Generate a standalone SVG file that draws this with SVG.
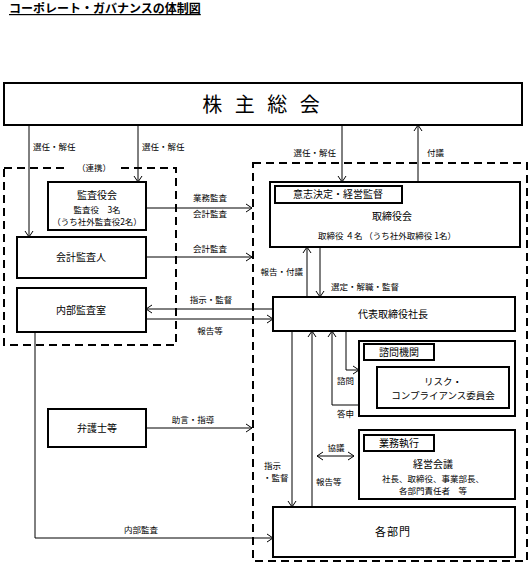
<svg xmlns="http://www.w3.org/2000/svg" width="530" height="571" viewBox="0 0 530 571">
<defs>
<marker id="ah" viewBox="-7 -5 8 10" refX="0" refY="0" markerWidth="8" markerHeight="10" markerUnits="userSpaceOnUse" orient="auto-start-reverse">
<path d="M-6,-4 L0,0 L-6,4" fill="none" stroke="#000" stroke-width="1"/>
</marker>
</defs>
<style>
text{font-family:"Noto Sans CJK JP","Noto Sans",sans-serif;fill:#000}
.box{fill:#fff;stroke:#000;stroke-width:2}
.dash{fill:none;stroke:#000;stroke-width:2;stroke-dasharray:8 5}
.c{fill:none;stroke:#000;stroke-width:1}
.a{marker-end:url(#ah)}
.lb{font-size:8.5px}
.bt{font-size:10px;text-anchor:middle}
.mid{text-anchor:middle}
.end{text-anchor:end}
</style>
<rect width="530" height="571" fill="#fff"/>
<text x="9" y="13" style="font-size:12px;font-weight:bold;text-decoration:underline">コーポレート・ガバナンスの体制図</text>

<g id="frames">
<rect class="dash" x="4" y="168" width="172" height="177"/>
<rect x="68" y="162" width="52" height="12" fill="#fff"/>
<text class="lb mid" x="94" y="171">（連携）</text>
<rect class="dash" x="253" y="163" width="274" height="398"/>
</g>

<g id="shareholders">
<rect class="box" x="4" y="83" width="518" height="42" stroke-width="2.5"/>
<text x="263" y="112" style="font-size:20px;text-anchor:middle;letter-spacing:4px">株 主 総 会</text>
</g>

<g id="kansayakukai">
<rect class="box" x="48" y="182" width="98" height="48"/>
<text class="bt" x="97" y="199">監査役会</text>
<text class="lb mid" x="97" y="213">監査役　3名</text>
<text class="lb mid" x="97" y="225">（うち社外監査役2名）</text>
</g>

<g id="kaikeikansanin">
<rect class="box" x="17" y="237" width="129" height="41"/>
<text class="bt" x="81" y="261">会計監査人</text>
</g>

<g id="naibukansashitsu">
<rect class="box" x="17" y="288" width="129" height="44"/>
<text class="bt" x="81" y="314">内部監査室</text>
</g>

<g id="bengoshi">
<rect class="box" x="48" y="409" width="98" height="38"/>
<text class="bt" x="97" y="432">弁護士等</text>
</g>

<g id="torishimariyakukai">
<rect class="box" x="270" y="182" width="250" height="65"/>
<rect class="box" x="275" y="186" width="127" height="17"/>
<text class="bt" x="338" y="198">意志決定・経営監督</text>
<text class="bt" x="392" y="220">取締役会</text>
<text class="lb mid" x="387" y="239">取締役 ４名 （うち社外取締役 1名）</text>
</g>

<g id="shacho">
<rect class="box" x="273" y="297" width="242" height="34"/>
<text class="bt" x="393" y="318">代表取締役社長</text>
</g>

<g id="shimon">
<rect class="box" x="359" y="341" width="156" height="75"/>
<rect class="box" x="364" y="344" width="70" height="16"/>
<text class="bt" x="399" y="356">諮問機関</text>
<rect class="box" x="377" y="367" width="132" height="41"/>
<text class="lb mid" x="443" y="385" style="font-size:9.5px">リスク・</text>
<text class="lb mid" x="443" y="399" style="font-size:9.5px">コンプライアンス委員会</text>
</g>

<g id="gyomushikko">
<rect class="box" x="359" y="430" width="156" height="69"/>
<rect class="box" x="364" y="435" width="70" height="16"/>
<text class="bt" x="399" y="447">業務執行</text>
<text class="bt" x="433" y="468">経営会議</text>
<text class="lb mid" x="433" y="482">社長、取締役、事業部長、</text>
<text class="lb mid" x="433" y="494">各部門責任者　等</text>
</g>

<g id="kakubumon">
<rect class="box" x="273" y="507" width="242" height="50"/>
<text class="bt" x="393" y="536" style="font-size:11px;letter-spacing:1px">各部門</text>
</g>

<g id="connectors">
<path class="c a" d="M29,125 V237"/>
<path class="c a" d="M138,125 V182"/>
<path class="c a" d="M342,125 V182"/>
<path class="c a" d="M418,182 V125"/>
<path class="c a" d="M146,208 H252"/>
<path class="c a" d="M146,257 H252"/>
<path class="c a" d="M273,309 H146"/>
<path class="c a" d="M146,319 H273"/>
<path class="c a" d="M146,428 H252"/>
<path class="c a" d="M35,332 V538 H273"/>
<path class="c a" d="M307,297 V247"/>
<path class="c a" d="M320,247 V297"/>
<path class="c a" d="M292,331 V507"/>
<path class="c a" d="M312,507 V331"/>
<path class="c a" d="M359,405 H332 V331"/>
<path class="c a" d="M346,331 V370 H359"/>
<path class="c a" d="M317,456 H354" style="marker-start:url(#ah)"/>
</g>

<g id="labels">
<text class="lb" x="33" y="150">選任・解任</text>
<text class="lb" x="142" y="150">選任・解任</text>
<text class="lb end" x="336" y="156">選任・解任</text>
<text class="lb" x="427" y="156">付議</text>
<text class="lb mid" x="210" y="201">業務監査</text>
<text class="lb mid" x="210" y="217">会計監査</text>
<text class="lb mid" x="210" y="252">会計監査</text>
<text class="lb mid" x="211" y="303">指示・監督</text>
<text class="lb mid" x="210" y="334">報告等</text>
<text class="lb mid" x="193" y="423">助言・指導</text>
<text class="lb mid" x="141" y="533">内部監査</text>
<text class="lb end" x="303" y="275">報告・付議</text>
<text class="lb" x="331" y="290">選定・解職・監督</text>
<text class="lb" x="264" y="469">指示</text>
<text class="lb" x="263" y="481">・監督</text>
<text class="lb" x="316" y="485">報告等</text>
<text class="lb" x="337" y="384">諮問</text>
<text class="lb" x="337" y="417">答申</text>
<text class="lb mid" x="336" y="451">協議</text>
</g>
</svg>
